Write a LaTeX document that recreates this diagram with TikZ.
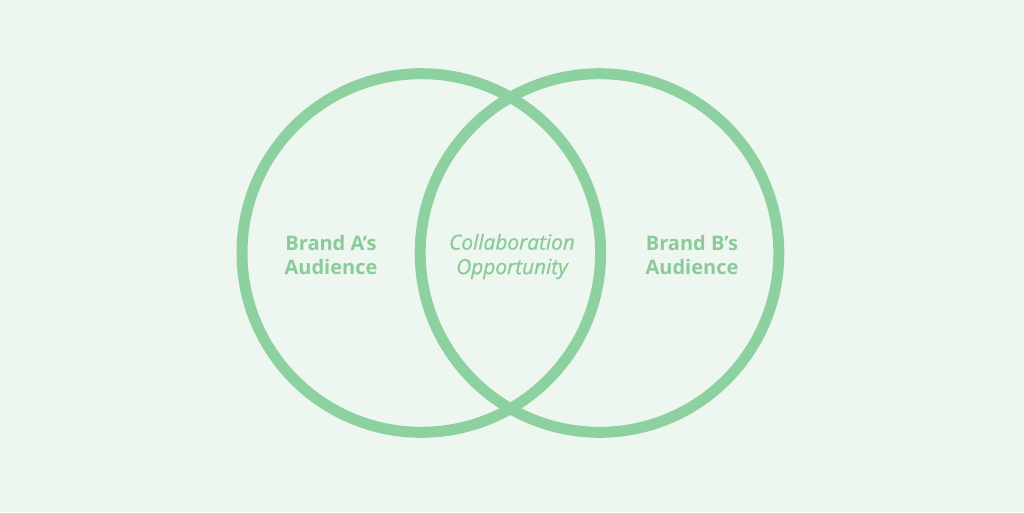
\documentclass[tikz,border=0pt]{standalone}
\usepackage{fontspec}
\setmainfont{Open Sans}
\definecolor{bg}{HTML}{EEF7EF}
\definecolor{ring}{HTML}{8ED1A0}
\definecolor{txt}{HTML}{8ACB99}
\begin{document}
\begin{tikzpicture}[x=1pt,y=-1pt,
  ringstyle/.style={draw=ring,line width=11pt},
  label/.style={text=txt,align=center,font=\fontsize{20}{24}\selectfont\bfseries},
  ilabel/.style={text=txt,align=center,font=\fontsize{20.8}{24.5}\selectfont\itshape\addfontfeatures{FakeBold=0.8}}]
\fill[bg] (0,0) rectangle (1024,512);
\useasboundingbox (0,0) rectangle (1024,512);
\draw[ringstyle] (421.3,253) circle (179.3);
\draw[ringstyle] (599.5,253) circle (179.3);
\node[label] (a) at (331,255) {Brand A’s\\Audience};
\node[ilabel] (c) at (512,256.5) {Collaboration\\Opportunity};
\node[label] (b) at (692,255) {Brand B’s\\Audience};
\end{tikzpicture}
\end{document}
